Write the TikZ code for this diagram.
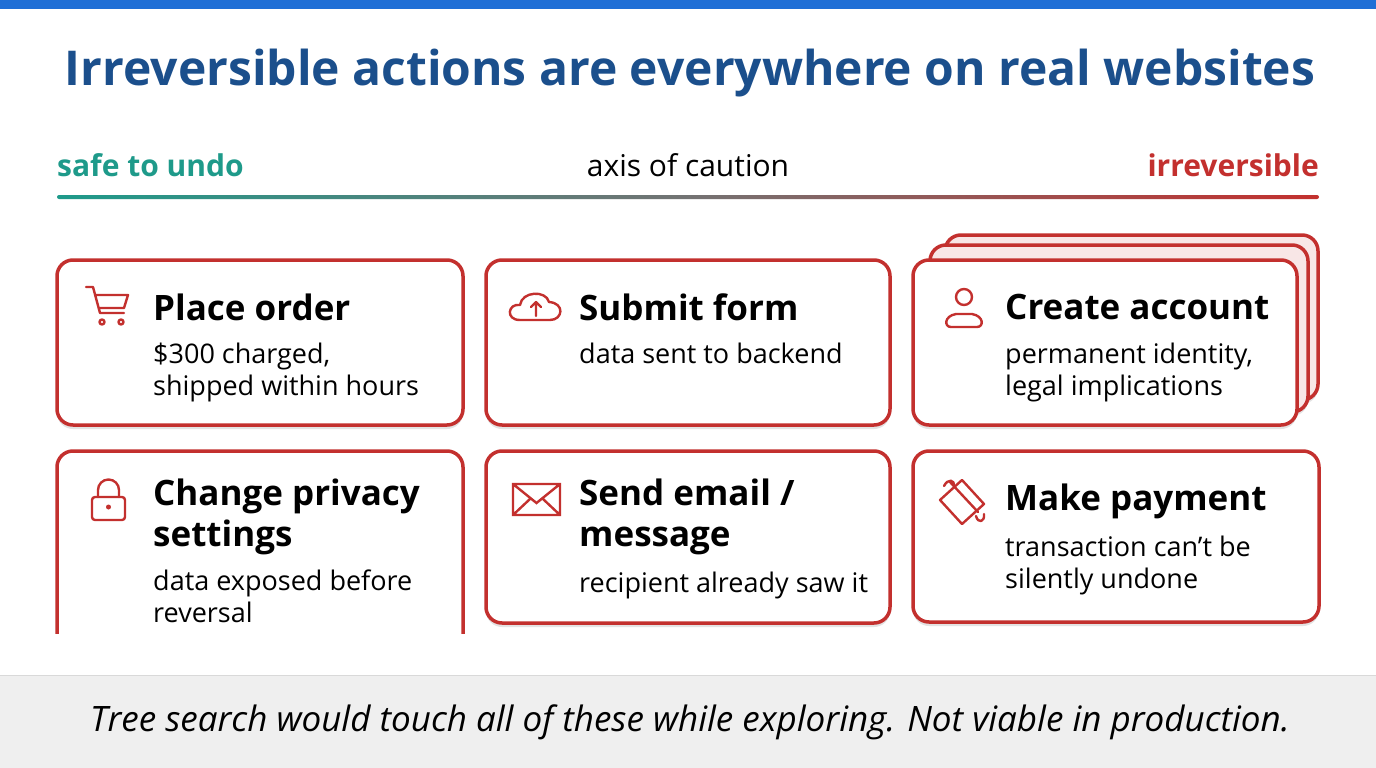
\documentclass[tikz,border=0pt]{standalone}
\usepackage{fontspec}
\setmainfont{Open Sans}
\usetikzlibrary{positioning,shadows}
\definecolor{cardred}{HTML}{C3302E}
\definecolor{titleblue}{HTML}{1B4F8C}
\definecolor{topblue}{HTML}{1F6FD6}
\definecolor{safeteal}{HTML}{1E9A8A}
\definecolor{bandgray}{HTML}{EFEFEF}
\tikzset{
  card/.style={draw=cardred, line width=3.5pt, rounded corners=16pt, fill=white,
    drop shadow={shadow xshift=0pt, shadow yshift=-4pt, opacity=.18, fill=black!60}},
  ttl/.style={anchor=west, font=\fontsize{35}{41}\selectfont\bfseries, inner sep=0pt, align=left},
  desc/.style={anchor=north west, font=\fontsize{27}{32}\selectfont, inner sep=0pt, align=left},
  icon/.style={draw=cardred, line width=2.4pt, line cap=round, line join=round}
}
\begin{document}
\begin{tikzpicture}[x=1pt,y=-1pt]
\useasboundingbox (0,0) rectangle (1376,768);
\fill[white] (0,0) rectangle (1376,768);
\fill[topblue] (0,0) rectangle (1376,9);
% title
\node[font=\fontsize{48}{56}\selectfont\bfseries, text=titleblue] (title) at (690,73) {Irreversible actions are everywhere on real websites};
% axis of caution
\node[anchor=west, font=\fontsize{30}{34}\selectfont\bfseries, text=safeteal, inner sep=0pt] (safe) at (57,165) {safe to undo};
\node[font=\fontsize{30}{34}\selectfont, inner sep=0pt] (axis) at (688,165) {axis of caution};
\node[anchor=east, font=\fontsize{30}{34}\selectfont\bfseries, text=cardred, inner sep=0pt] (irr) at (1319,165) {irreversible};
\shade[left color=safeteal, right color=cardred, middle color=black!55, rounded corners=2pt] (57,195) rectangle (1319,199);
% cards, row 1
\draw[card, fill=cardred!12] (945,235) rectangle (1318,400);
\draw[card, fill=cardred!12] (930,245) rectangle (1308,412);
\draw[card] (57,260) rectangle (463,425);
\draw[card] (486,260) rectangle (890,425);
\draw[card] (913,260) rectangle (1297,425);
% cards, row 2
\draw[card] (57,451) rectangle (463,700);
\draw[card] (486,451) rectangle (890,623);
\draw[card] (913,451) rectangle (1319,622);
\fill[white] (40,634) rectangle (480,675);
% texts
\node[ttl] (order) at (153,307) {Place order};
\node[desc] (orderd) at (153,343) {\$300 charged,\\shipped within hours};
\node[ttl] (form) at (579,307) {Submit form};
\node[desc] (formd) at (579,343) {data sent to backend};
\node[ttl] (acct) at (1005,307) {Create account};
\node[desc] (acctd) at (1005,343) {permanent identity,\\legal implications};
\node[ttl, anchor=north west] (priv) at (153,479) {Change privacy\\settings};
\node[desc] (privd) at (153,570) {data exposed before\\reversal};
\node[ttl, anchor=north west] (mail) at (579,479) {Send email /\\message};
\node[desc] (maild) at (579,572) {recipient already saw it};
\node[ttl] (pay) at (1005,501) {Make payment};
\node[desc] (payd) at (1005,536) {transaction can't be\\silently undone};
% icons
\draw[icon] (86,287) -- (93,287) -- (100,313) -- (124,313) (96,295) -- (128,295) -- (124,308) -- (99,308);
\draw[icon] (102,322) circle (2.5) (121,322) circle (2.5);
\draw[icon] (520,320) .. controls (505,320) and (508,303) .. (520,305) .. controls (522,291) and (546,290) .. (549,302) .. controls (565,303) and (563,320) .. (550,320) -- cycle;
\draw[icon] (536,316) -- (536,302) (531,307) -- (536,302) -- (541,307);
\draw[icon] (964,297) circle (8);
\draw[icon] (951,327) .. controls (944,327) and (944,316) .. (956,314) -- (972,314) .. controls (984,316) and (984,327) .. (977,327) -- cycle;
\draw[icon, rounded corners=3pt] (92,497) rectangle (125,520);
\draw[icon] (98,497) -- (98,490) arc (180:360:10.5) -- (119,497);
\fill[cardred] (108.5,507) circle (2.5);
\draw[icon, line join=miter] (513,484) rectangle (560,515) (513,484) -- (536.5,503) -- (560,484) (513,515) -- (530,499) (560,515) -- (543,499);
\draw[icon] (950,482) -- (978,512) (940,500) -- (962,480) -- (984,504) -- (962,524) -- cycle;
\draw[icon] (944,486) .. controls (948,478) and (955,480) .. (954,486) (976,516) .. controls (978,524) and (985,522) .. (984,514);
% bottom band
\fill[bandgray] (0,675) rectangle (1376,768);
\draw[black!15, line width=1pt] (0,675) -- (1376,675);
\node[font=\fontsize{35}{40}\selectfont\itshape] (note) at (690,722) {Tree search would touch all of these while exploring. Not viable in production.};
\end{tikzpicture}
\end{document}
